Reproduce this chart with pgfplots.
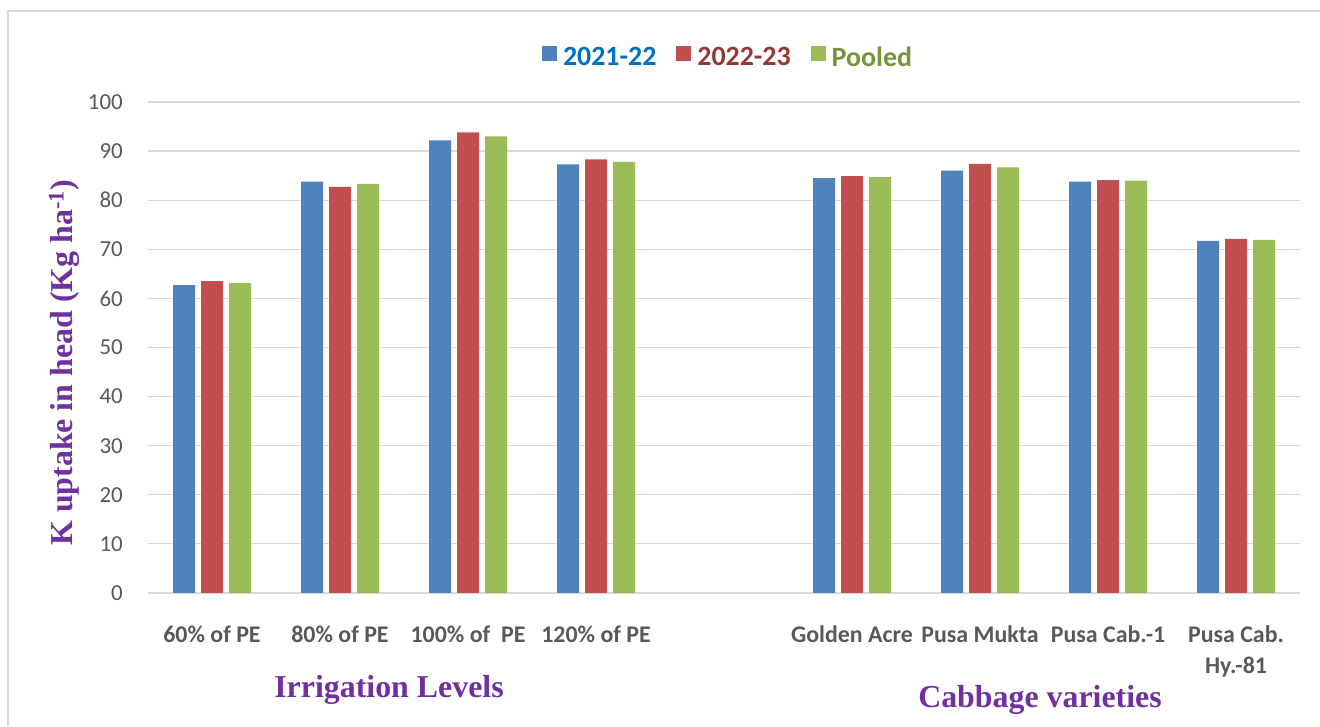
\documentclass[border=0pt]{standalone}
\usepackage{fontspec}
\setmainfont{Carlito}
\newfontfamily\tnr{Liberation Serif}
\usepackage{pgfplots}
\pgfplotsset{compat=1.18}
\definecolor{cblue}{HTML}{4F81BD}
\definecolor{cred}{HTML}{C0504D}
\definecolor{cgreen}{HTML}{9BBB59}
\definecolor{tblue}{HTML}{0070C0}
\definecolor{tred}{HTML}{953735}
\definecolor{tgreen}{HTML}{77933C}
\definecolor{tickgray}{HTML}{595959}
\definecolor{gridgray}{HTML}{D9D9D9}
\definecolor{ptitle}{HTML}{7030A0}
\begin{document}
\begin{tikzpicture}[x=1bp,y=1bp]
\useasboundingbox (0,0) rectangle (1320,726);
\fill[white] (0,0) rectangle (1320,726);
\draw[gridgray, line width=2.5bp] (8,0) -- (8,715);
\draw[gridgray, line width=1.5bp] (6.75,715) -- (1320,715);
\begin{axis}[
  at={(148bp,133bp)}, anchor=south west,
  scale only axis, width=1152bp, height=491bp,
  xmin=-0.5, xmax=8.5, ymin=0, ymax=100,
  ybar=6bp, bar width=22bp,
  axis x line*=bottom, axis y line*=left,
  x axis line style={gridgray, line width=1.5bp},
  y axis line style={draw=none},
  major tick length=0pt,
  ymajorgrids, grid style={gridgray, line width=1.2bp},
  ytick={0,10,...,100},
  /pgf/number format/assume math mode=true,
  yticklabel style={font=\fontsize{23}{23}\selectfont, color=tickgray, anchor=east, inner sep=0pt, xshift=-25bp},
  xtick={0,1,2,3,5,6,7,8},
  xticklabels={60\% of PE, 80\% of PE, 100\% of\ \ PE, 120\% of PE, Golden Acre, Pusa Mukta, Pusa Cab.-1, {\begin{tabular}[t]{@{}c@{}}Pusa Cab.\\Hy.-81\end{tabular}}},
  xticklabel style={font=\bfseries\fontsize{24}{30.6}\selectfont, color=tickgray, anchor=base, inner sep=0pt, yshift=-50bp},
  legend style={at={(0.5,1)}, anchor=center, xshift=4bp, yshift=45bp, draw=none, fill=none,
    font=\bfseries\fontsize{28}{28}\selectfont,
    /tikz/every even column/.append style={column sep=18bp}},
  legend columns=3,
  legend image code/.code={\fill[#1,draw=none] (0bp,-4.5bp) rectangle (15bp,10.5bp); \path (19bp,3bp);},
]
\addplot[fill=cblue, draw=none] coordinates {(0,62.7) (1,83.8) (2,92.2) (3,87.3) (5,84.5) (6,86.0) (7,83.8) (8,71.7)};
\addlegendentry{\textcolor{tblue}{2021-22}}
\addplot[fill=cred, draw=none] coordinates {(0,63.5) (1,82.7) (2,93.8) (3,88.3) (5,84.9) (6,87.4) (7,84.1) (8,72.1)};
\addlegendentry{\textcolor{tred}{2022-23}}
\addplot[fill=cgreen, draw=none] coordinates {(0,63.1) (1,83.3) (2,93.0) (3,87.8) (5,84.7) (6,86.7) (7,84.0) (8,71.9)};
\addlegendentry{\textcolor{tgreen}{Pooled}}
\end{axis}
\node[font=\tnr\bfseries\fontsize{32}{32}\selectfont, color=ptitle, anchor=base, inner sep=0pt] at (389,29) {Irrigation Levels};
\node[font=\tnr\bfseries\fontsize{32}{32}\selectfont, color=ptitle, anchor=base, inner sep=0pt] at (1040,18.3) {Cabbage varieties};
\node[font=\tnr\bfseries\fontsize{32}{32}\selectfont, color=ptitle, anchor=base, inner sep=0pt, rotate=90] at (72.5,363) {K uptake in head (Kg ha\textsuperscript{-1})};
\end{tikzpicture}
\end{document}
